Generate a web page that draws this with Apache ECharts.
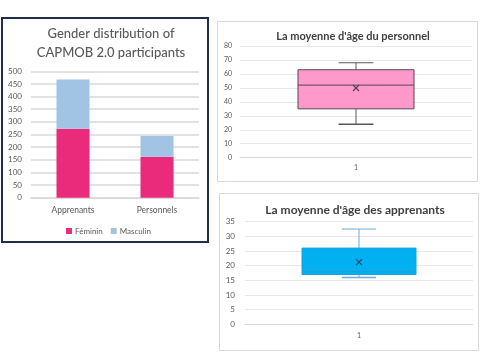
<!DOCTYPE html>
<html><head><meta charset="utf-8">
<script src="https://cdn.jsdelivr.net/npm/echarts@6/dist/echarts.min.js"></script>
<style>html,body{margin:0;padding:0;background:#fff}#c{width:484px;height:358px}</style>
</head><body><div id="c"></div>
<script>
// Bar chart data
const genderCategories = ['Apprenants', 'Personnels'];
const feminin = [273, 162];
const masculin = [195, 82];
const barTicks = [0, 50, 100, 150, 200, 250, 300, 350, 400, 450, 500];

// Box plot data: [min, Q1, median, Q3, max, mean]
const boxCategories = ['1'];
const personnelBox = [24, 35, 52, 63, 68, 49.9];
const apprenantsBox = [16, 17, 18, 26, 32.5, 21.2];

const chart = echarts.init(document.getElementById('c'), null, {renderer: 'canvas'});
const FONT = 'Lato';

function boxRender(fill, border, whisker, markColor) {
  return function (params, api) {
    const q1 = api.coord([0, api.value(2)]);
    const q3 = api.coord([0, api.value(4)]);
    const med = api.coord([0, api.value(3)]);
    const mn = api.coord([0, api.value(1)]);
    const mx = api.coord([0, api.value(5)]);
    const mean = api.coord([0, api.value(6)]);
    const bw = api.size([1, 0])[0] * 0.5;
    const cw = bw * 0.3;
    const x = q1[0];
    const children = [
      {type: 'line', shape: {x1: x, y1: mx[1], x2: x, y2: q3[1]}, style: {stroke: whisker, lineWidth: 1}},
      {type: 'line', shape: {x1: x, y1: q1[1], x2: x, y2: mn[1]}, style: {stroke: whisker, lineWidth: 1}},
      {type: 'line', shape: {x1: x - cw / 2, y1: mx[1], x2: x + cw / 2, y2: mx[1]}, style: {stroke: whisker, lineWidth: 1}},
      {type: 'line', shape: {x1: x - cw / 2, y1: mn[1], x2: x + cw / 2, y2: mn[1]}, style: {stroke: whisker, lineWidth: 1.5}},
      {type: 'rect', shape: {x: x - bw / 2, y: q3[1], width: bw, height: q1[1] - q3[1]}, style: {fill: fill, stroke: border, lineWidth: 1}},
      {type: 'line', shape: {x1: x - bw / 2, y1: med[1], x2: x + bw / 2, y2: med[1]}, style: {stroke: border, lineWidth: 1}},
      {type: 'line', shape: {x1: x - 3, y1: mean[1] - 3, x2: x + 3, y2: mean[1] + 3}, style: {stroke: markColor, lineWidth: 1.2}},
      {type: 'line', shape: {x1: x - 3, y1: mean[1] + 3, x2: x + 3, y2: mean[1] - 3}, style: {stroke: markColor, lineWidth: 1.2}}
    ];
    return {type: 'group', children: children};
  };
}

const axisLabelGray = {color: '#595959', fontSize: 8, fontFamily: FONT};

chart.setOption({
  animation: false,
  textStyle: {fontFamily: FONT},
  graphic: [
    {type: 'rect', shape: {x: 2, y: 18, width: 206, height: 224}, style: {fill: 'none', stroke: '#1f2d4a', lineWidth: 2}},
    {type: 'rect', shape: {x: 217.5, y: 21.5, width: 260, height: 160}, style: {fill: 'none', stroke: '#d9d9d9', lineWidth: 1}},
    {type: 'rect', shape: {x: 219.5, y: 193.5, width: 259, height: 157}, style: {fill: 'none', stroke: '#d9d9d9', lineWidth: 1}}
  ],
  title: [
    {text: 'Gender distribution of\nCAPMOB 2.0 participants', left: 106, top: 19, textAlign: 'center',
     textStyle: {fontSize: 13, fontWeight: 500, color: '#595959', fontFamily: FONT, lineHeight: 19}},
    {text: "La moyenne d'âge du personnel", left: 348, top: 26, textAlign: 'center',
     textStyle: {fontSize: 11, fontWeight: 'bold', color: '#404040', fontFamily: FONT}},
    {text: "La moyenne d'âge des apprenants", left: 350, top: 199, textAlign: 'center',
     textStyle: {fontSize: 12, fontWeight: 'bold', color: '#404040', fontFamily: FONT}}
  ],
  legend: {
    data: ['Féminin', 'Masculin'], left: 61, top: 222,
    itemWidth: 6, itemHeight: 6, itemGap: 8, icon: 'rect',
    textStyle: {fontSize: 8, color: '#595959', fontFamily: FONT, padding: [0, 0, 0, -2]}
  },
  grid: [
    {left: 31, top: 71.3, width: 168, height: 126.4},
    {left: 240, top: 46, width: 232, height: 111.7},
    {left: 245, top: 221.7, width: 228, height: 102.6}
  ],
  xAxis: [
    {type: 'category', gridIndex: 0, data: genderCategories, axisTick: {show: false},
     axisLine: {lineStyle: {color: '#d9d9d9', width: 1.5}}, axisLabel: {color: '#595959', fontSize: 8.5, fontFamily: FONT, margin: 8}},
    {type: 'category', gridIndex: 1, data: boxCategories, axisTick: {show: false},
     axisLine: {lineStyle: {color: '#d9d9d9'}}, axisLabel: {color: '#595959', fontSize: 7, margin: 7}},
    {type: 'category', gridIndex: 2, data: boxCategories, axisTick: {show: false},
     axisLine: {lineStyle: {color: '#d9d9d9'}}, axisLabel: {color: '#595959', fontSize: 7, margin: 8}}
  ],
  yAxis: [
    {type: 'value', gridIndex: 0, min: barTicks[0], max: barTicks[barTicks.length - 1], interval: 50,
     axisLine: {show: false}, axisTick: {show: false},
     splitLine: {lineStyle: {color: '#d9d9d9', width: 1.5}}, axisLabel: Object.assign({margin: 9}, axisLabelGray)},
    {type: 'value', gridIndex: 1, min: 0, max: 80, interval: 10,
     axisLine: {show: false}, axisTick: {show: false},
     splitLine: {lineStyle: {color: '#e8e8e8'}}, axisLabel: {color: '#595959', fontSize: 7, margin: 8}},
    {type: 'value', gridIndex: 2, min: 0, max: 35, interval: 5,
     axisLine: {show: false}, axisTick: {show: false},
     splitLine: {lineStyle: {color: '#e8e8e8'}}, axisLabel: {color: '#595959', fontSize: 8, margin: 10}}
  ],
  series: [
    {name: 'Féminin', type: 'bar', stack: 'g', xAxisIndex: 0, yAxisIndex: 0, data: feminin, barWidth: 33,
     itemStyle: {color: '#ea2a7b'}},
    {name: 'Masculin', type: 'bar', stack: 'g', xAxisIndex: 0, yAxisIndex: 0, data: masculin, barWidth: 33,
     itemStyle: {color: '#a2c4e4'}},
    {type: 'custom', xAxisIndex: 1, yAxisIndex: 1,
     data: [[0].concat(personnelBox)],
     renderItem: boxRender('#ff99cc', '#5a4450', '#595959', '#5a4450')},
    {type: 'custom', xAxisIndex: 2, yAxisIndex: 2,
     data: [[0].concat(apprenantsBox)],
     renderItem: boxRender('#00b0f0', '#1ea0dc', '#6fa8dc', '#1f4e79')}
  ]
});
</script></body></html>
